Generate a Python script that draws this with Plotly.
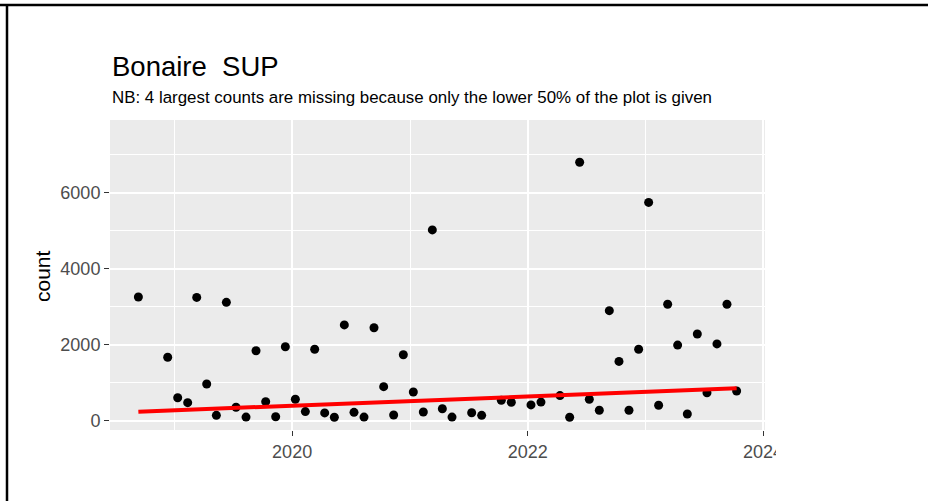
import plotly.graph_objects as go

# Monthly survey counts, Bonaire SUP
months = [
    "2018-09", "2018-12", "2019-01", "2019-02", "2019-03", "2019-04", "2019-05",
    "2019-06", "2019-07", "2019-08", "2019-09", "2019-10", "2019-11", "2019-12",
    "2020-01", "2020-02", "2020-03", "2020-04", "2020-05", "2020-06", "2020-07",
    "2020-08", "2020-09", "2020-10", "2020-11", "2020-12", "2021-01", "2021-02",
    "2021-03", "2021-04", "2021-05", "2021-07", "2021-08", "2021-10", "2021-11",
    "2022-01", "2022-02", "2022-04", "2022-05", "2022-06", "2022-07", "2022-08",
    "2022-09", "2022-10", "2022-11", "2022-12", "2023-01", "2023-02", "2023-03",
    "2023-04", "2023-05", "2023-06", "2023-07", "2023-08", "2023-09", "2023-10",
]
counts = [
    3255, 1670, 605, 475, 3245, 965, 140, 3115, 355, 95,
    1840, 500, 105, 1945, 565, 240, 1880, 205, 90, 2520,
    220, 95, 2445, 895, 150, 1735, 755, 230, 5020, 315,
    95, 210, 140, 535, 485, 415, 490, 660, 90, 6800,
    565, 275, 2895, 1560, 275, 1880, 5745, 405, 3065, 1990,
    175, 2280, 735, 2020, 3065, 780,
]
# Linear trend (fitted on the full series) at the first and last survey dates
trend_counts = [237, 853]

title_text = "Bonaire\u00a0 SUP"
subtitle_text = "NB: 4 largest counts are missing because only the lower 50% of the plot is given"
y_label = "count"

dates = [m + "-11" for m in months]
trend_dates = [dates[0], dates[-1]]

FONT = "Liberation Sans, Arial, Helvetica, sans-serif"
W, H = 928, 501
ML, MR, MT, MB = 110, 163, 120, 71
PW, PH = W - ML - MR, H - MT - MB


def px_x(px):
    return (px - ML) / PW


def px_y(py):
    return (H - MB - py) / PH


fig = go.Figure()
fig.add_trace(go.Scatter(
    x=dates, y=counts, mode="markers",
    marker=dict(color="black", size=9, line=dict(width=0)),
    showlegend=False, hoverinfo="x+y",
))
fig.add_trace(go.Scatter(
    x=trend_dates, y=trend_counts, mode="lines",
    line=dict(color="#FF0000", width=4),
    showlegend=False, hoverinfo="skip",
))

fig.update_layout(
    width=W, height=H,
    margin=dict(l=ML, r=MR, t=MT, b=MB, pad=0),
    paper_bgcolor="white", plot_bgcolor="#EBEBEB",
    font=dict(family=FONT, color="black"),
    showlegend=False,
)
fig.update_xaxes(
    type="date", range=["2018-06-15", "2024-01-07"],
    tick0="2020-01-01", dtick="M24", tickformat="%Y",
    showgrid=True, gridcolor="white", gridwidth=1.6,
    minor=dict(dtick="M12", tick0="2019-01-01", showgrid=True,
               gridcolor="white", gridwidth=0.8),
    ticks="outside", ticklen=5, tickwidth=1.1, tickcolor="#333333",
    tickfont=dict(size=18, color="#4D4D4D", family=FONT),
    zeroline=False, showline=False,
)
fig.update_yaxes(
    range=[-245, 7913], tick0=0, dtick=2000,
    showgrid=True, gridcolor="white", gridwidth=1.6,
    minor=dict(dtick=1000, tick0=0, showgrid=True,
               gridcolor="white", gridwidth=0.8),
    ticks="outside", ticklen=5, tickwidth=1.1, tickcolor="#333333",
    tickfont=dict(size=18, color="#4D4D4D", family=FONT),
    zeroline=False, showline=False,
)

fig.add_annotation(
    text=title_text, xref="paper", yref="paper",
    x=0, y=px_y(66.5), xanchor="left", yanchor="middle",
    showarrow=False, font=dict(size=27.5, color="black", family=FONT),
)
fig.add_annotation(
    text=subtitle_text, xref="paper", yref="paper",
    x=0, y=px_y(97), xanchor="left", yanchor="middle",
    showarrow=False, font=dict(size=16.9, color="black", family=FONT),
)
fig.add_annotation(
    text=y_label, xref="paper", yref="paper",
    x=px_x(42), y=px_y(276), xanchor="center", yanchor="middle",
    textangle=-90, showarrow=False,
    font=dict(size=21, color="black", family=FONT),
)

# Frame cut-off on the right and the surrounding border
fig.add_shape(type="rect", xref="paper", yref="paper",
              x0=px_x(776), x1=px_x(W + 5), y0=px_y(H + 5), y1=px_y(432),
              fillcolor="white", line=dict(width=0), layer="above")
fig.add_shape(type="line", xref="paper", yref="paper",
              x0=px_x(-2), x1=px_x(W + 2), y0=px_y(5), y1=px_y(5),
              line=dict(color="black", width=2.5), layer="above")
fig.add_shape(type="line", xref="paper", yref="paper",
              x0=px_x(7), x1=px_x(7), y0=px_y(4), y1=px_y(H + 2),
              line=dict(color="black", width=2.5), layer="above")

fig.write_html("out.html")
